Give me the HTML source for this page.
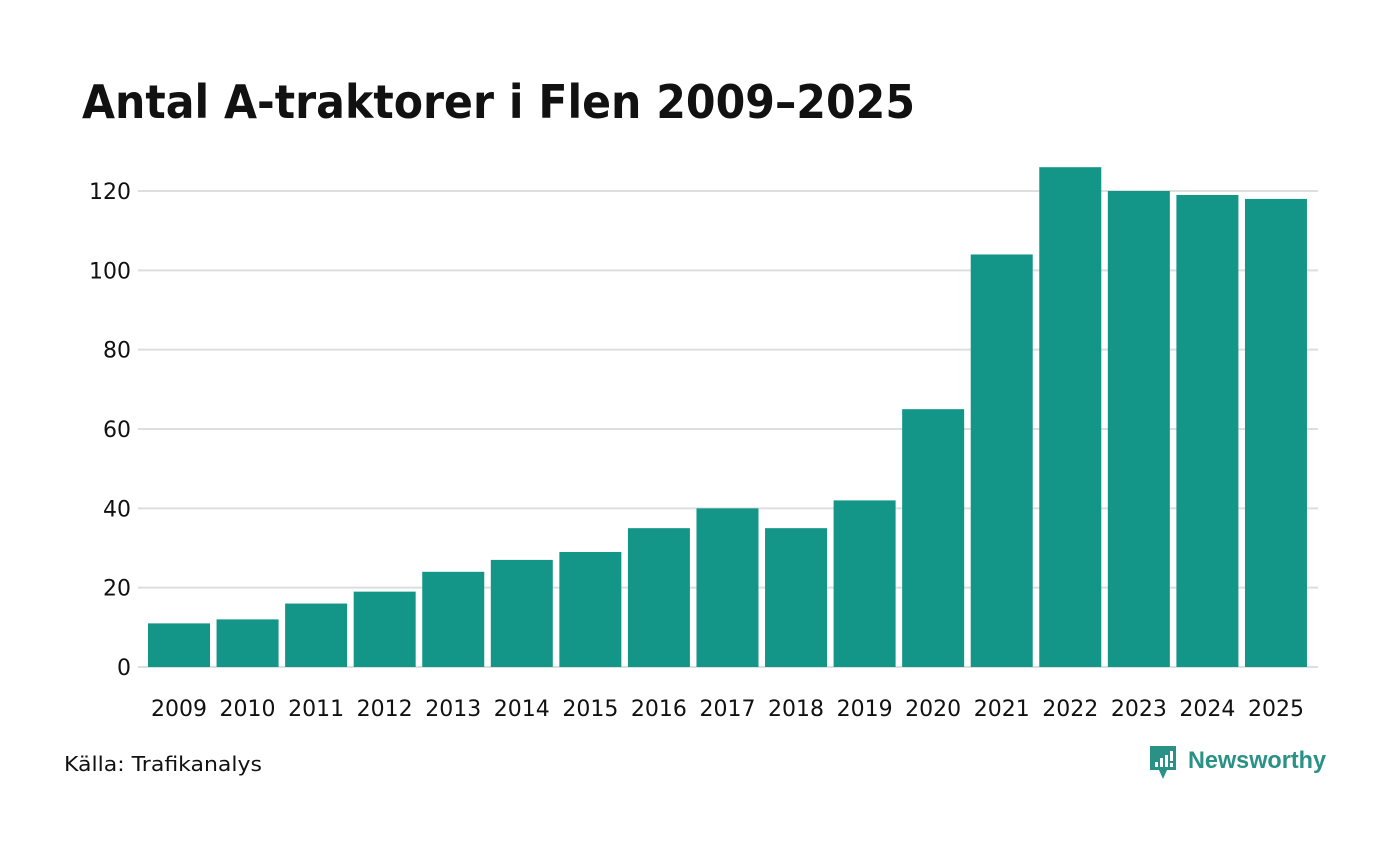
<!DOCTYPE html>
<html><head><meta charset="utf-8"><style>
body{margin:0;background:#fff;width:1400px;height:840px;overflow:hidden;font-family:"DejaVu Sans","Liberation Sans",sans-serif}
</style></head><body>
<svg width="1400" height="840" xmlns="http://www.w3.org/2000/svg">
<text x="82" y="118" font-size="46" font-weight="bold" fill="#111" textLength="833" lengthAdjust="spacingAndGlyphs" font-family="DejaVu Sans, sans-serif">Antal A-traktorer i Flen 2009–2025</text>
<g id="grid"></g><g id="bars"></g><g id="xlabels"></g>
<text x="64" y="771" font-size="20" fill="#111" textLength="198" lengthAdjust="spacingAndGlyphs">Källa: Trafikanalys</text>
<g>
<path d="M1150 746 h26 v24 h-9 l-4 9 l-4 -9 h-9 z" fill="#2a9186"/>
<rect x="1155" y="762" width="3" height="5" fill="#fff"/><rect x="1160" y="758" width="3" height="9" fill="#fff"/><rect x="1165" y="755" width="3" height="12" fill="#fff"/><rect x="1170" y="751" width="3" height="10" fill="#fff"/><rect x="1170" y="763" width="3" height="4" fill="#fff"/>
<text x="1188" y="768" font-size="24" font-weight="bold" fill="#2a9186" textLength="138" lengthAdjust="spacingAndGlyphs" font-family="Liberation Sans, sans-serif">Newsworthy</text>
</g>
</svg>
<script>
const categories=["2009","2010","2011","2012","2013","2014","2015","2016","2017","2018","2019","2020","2021","2022","2023","2024","2025"];
const values=[11,12,16,19,24,27,29,35,40,35,42,65,104,126,120,119,118];
const yTicks=[0,20,40,60,80,100,120];
const NS="http://www.w3.org/2000/svg";
const y0=667,yPer=476/120,x0=148,step=68.56,bw=62;
const ys=v=>y0-v*yPer, xs=i=>x0+i*step;
const grid=document.getElementById('grid'),bars=document.getElementById('bars'),xl=document.getElementById('xlabels');
yTicks.forEach(t=>{
 const l=document.createElementNS(NS,'line');
 l.setAttribute('x1',138);l.setAttribute('x2',1318);l.setAttribute('y1',ys(t));l.setAttribute('y2',ys(t));
 l.setAttribute('stroke','#dedede');l.setAttribute('stroke-width','2');
 
 
 grid.appendChild(l);
 const tx=document.createElementNS(NS,'text');
 tx.setAttribute('x',131);tx.setAttribute('y',ys(t)+8);tx.setAttribute('text-anchor','end');
 tx.setAttribute('font-size','22');tx.setAttribute('fill','#111');tx.textContent=t;
 
 
 grid.appendChild(tx);
});
values.forEach((v,i)=>{
 const r=document.createElementNS(NS,'rect');
 r.setAttribute('x',xs(i));r.setAttribute('y',ys(v));r.setAttribute('width',bw);r.setAttribute('height',y0-ys(v));
 r.setAttribute('fill','#139688');
 
 
 bars.appendChild(r);
 const tx=document.createElementNS(NS,'text');
 tx.setAttribute('x',xs(i)+bw/2);tx.setAttribute('y',716);tx.setAttribute('text-anchor','middle');
 tx.setAttribute('font-size','22');tx.setAttribute('fill','#111');tx.textContent=categories[i];
 
 
 xl.appendChild(tx);
});
</script>
</body></html>
